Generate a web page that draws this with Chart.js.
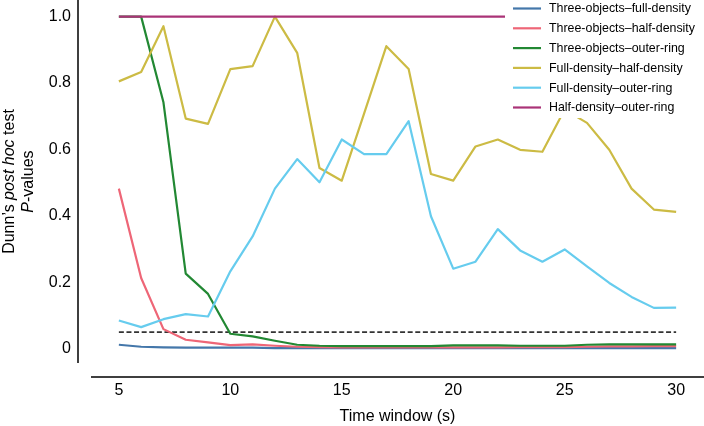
<!DOCTYPE html>
<html lang="en">
<head>
  <meta charset="UTF-8" />
  <title>Dunn's post hoc test P-values</title>
  <script src="https://cdn.jsdelivr.net/npm/chart.js"></script>
  <style>
    body {
      margin: 0;
      background: #fff;
    }
    canvas {
      display: block;
    }
  </style>
</head>
<body>
  <canvas id="pChart" width="704" height="426"></canvas>

  <script>
    // time windows (s)
    const timeWindow = [5, 6, 7, 8, 9, 10, 11, 12, 13, 14, 15, 16, 17, 18, 19, 20, 21, 22, 23, 24, 25, 26, 27, 28, 29, 30];

    const threeFull = [0.012, 0.006, 0.004, 0.003, 0.003, 0.003, 0.003, 0.002, 0.002, 0.002, 0.002, 0.002, 0.002,
                       0.002, 0.002, 0.002, 0.002, 0.002, 0.002, 0.002, 0.002, 0.002, 0.002, 0.002, 0.002, 0.002];
    const threeHalf = [0.482, 0.213, 0.059, 0.027, 0.019, 0.011, 0.013, 0.009, 0.006, 0.005, 0.004, 0.004, 0.004,
                       0.004, 0.004, 0.004, 0.004, 0.004, 0.005, 0.005, 0.005, 0.006, 0.007, 0.007, 0.008, 0.008];
    const threeOuter = [1.0, 1.0, 0.742, 0.226, 0.165, 0.045, 0.037, 0.024, 0.012, 0.009, 0.008, 0.008, 0.008,
                        0.008, 0.008, 0.010, 0.010, 0.010, 0.009, 0.009, 0.009, 0.012, 0.013, 0.013, 0.013, 0.013];
    const fullHalf = [0.805, 0.833, 0.971, 0.693, 0.677, 0.842, 0.851, 1.0, 0.891, 0.544, 0.506, 0.708, 0.911,
                      0.842, 0.526, 0.506, 0.609, 0.630, 0.599, 0.593, 0.720, 0.680, 0.599, 0.482, 0.419, 0.412];
    const fullOuter = [0.085, 0.065, 0.089, 0.104, 0.097, 0.233, 0.338, 0.482, 0.571, 0.501, 0.630, 0.586, 0.586,
                       0.685, 0.399, 0.241, 0.262, 0.360, 0.296, 0.262, 0.299, 0.248, 0.198, 0.156, 0.123, 0.124];
    const halfOuter = [1.0, 1.0, 1.0, 1.0, 1.0, 1.0, 1.0, 1.0, 1.0, 1.0, 1.0, 1.0, 1.0,
                       1.0, 1.0, 1.0, 1.0, 1.0, 1.0, 1.0, 1.0, 1.0, 1.0, 1.0, 1.0, 1.0];

    const seriesLabels = ['Three-objects\u2013full-density', 'Three-objects\u2013half-density', 'Three-objects\u2013outer-ring',
                          'Full-density\u2013half-density', 'Full-density\u2013outer-ring', 'Half-density\u2013outer-ring'];
    const seriesValues = [threeFull, threeHalf, threeOuter, fullHalf, fullOuter, halfOuter];
    const seriesColors = ['#4477AA', '#EE6677', '#228833', '#CCBB44', '#66CCEE', '#AA3377'];

    const threshold = 0.05;
    const xTicks = [5, 10, 15, 20, 25, 30];
    const yTicks = [0, 0.2, 0.4, 0.6, 0.8, 1.0];

    const FONT = "'Liberation Sans', Arial, sans-serif";

    const datasets = seriesValues.map((vals, i) => ({
      label: seriesLabels[i],
      data: vals.map((v, j) => ({ x: timeWindow[j], y: v })),
      borderColor: seriesColors[i],
      backgroundColor: seriesColors[i],
      borderWidth: 2.2,
      pointRadius: 0,
      tension: 0,
      borderJoinStyle: 'round',
      order: 10 - i
    }));

    // dashed significance line
    datasets.push({
      label: 'threshold',
      data: [{ x: timeWindow[0], y: threshold }, { x: timeWindow[timeWindow.length - 1], y: threshold }],
      borderColor: '#333',
      borderWidth: 1.6,
      borderDash: [5, 2.6],
      pointRadius: 0,
      order: 20
    });

    // offset spines like the despined original
    const spines = {
      id: 'spines',
      afterDraw(chart) {
        const { ctx, chartArea: a } = chart;
        ctx.save();
        ctx.strokeStyle = '#000';
        ctx.lineWidth = 1.5;
        ctx.beginPath();
        ctx.moveTo(a.left - 13, a.top);
        ctx.lineTo(a.left - 13, a.bottom);
        ctx.moveTo(a.left, a.bottom + 14);
        ctx.lineTo(a.right, a.bottom + 14);
        ctx.stroke();
        ctx.restore();
      }
    };

    // legend box with white background, top right inside plot
    const boxLegend = {
      id: 'boxLegend',
      afterDatasetsDraw(chart) {
        const { ctx } = chart;
        const x0 = 505, y0 = 0, w = 199, h = 118;
        ctx.save();
        ctx.fillStyle = '#fff';
        ctx.fillRect(x0, y0, w, h);
        ctx.font = `12.4px ${FONT}`;
        ctx.textBaseline = 'middle';
        ctx.fillStyle = '#000';
        chart.data.datasets.slice(0, seriesLabels.length).forEach((ds, i) => {
          const y = 8.5 + i * 19.8;
          ctx.strokeStyle = ds.borderColor;
          ctx.lineWidth = 2.2;
          ctx.beginPath();
          ctx.moveTo(513, y);
          ctx.lineTo(541, y);
          ctx.stroke();
          ctx.fillText(ds.label, 549, y + 0.5);
        });
        ctx.restore();
      }
    };

    // y title with italic parts
    const yTitle = {
      id: 'yTitle',
      afterDraw(chart) {
        const { ctx, chartArea: a } = chart;
        const lines = [
          { x: 10, parts: [['Dunn\u2019s ', false], ['post hoc', true], [' test', false]] },
          { x: 29, parts: [['P', true], ['-values', false]] }
        ];
        const cy = (a.top + a.bottom) / 2;
        ctx.save();
        ctx.fillStyle = '#000';
        ctx.textBaseline = 'middle';
        ctx.textAlign = 'left';
        lines.forEach(line => {
          const fonts = line.parts.map(p => `${p[1] ? 'italic ' : ''}16px ${FONT}`);
          let total = 0;
          const widths = line.parts.map((p, k) => { ctx.font = fonts[k]; const wd = ctx.measureText(p[0]).width; total += wd; return wd; });
          ctx.save();
          ctx.translate(line.x, cy);
          ctx.rotate(-Math.PI / 2);
          let px = -total / 2;
          line.parts.forEach((p, k) => {
            ctx.font = fonts[k];
            ctx.fillText(p[0], px, 0);
            px += widths[k];
          });
          ctx.restore();
        });
        ctx.restore();
      }
    };

    const chart = new Chart(document.getElementById('pChart'), {
      type: 'line',
      data: { datasets },
      plugins: [spines, boxLegend, yTitle],
      options: {
        responsive: false,
        animation: false,
        layout: { padding: 0 },
        plugins: {
          legend: { display: false },
          tooltip: { enabled: false }
        },
        scales: {
          x: {
            type: 'linear',
            min: 3.75,
            max: 31.25,
            grid: { display: false, drawTicks: false },
            border: { display: false },
            afterBuildTicks: s => { s.ticks = xTicks.map(v => ({ value: v })); },
            afterFit: s => {
              s.height = 63;
              s.paddingLeft = 0;
              s.paddingRight = 0;
            },
            ticks: {
              padding: 18,
              color: '#000',
              maxRotation: 0,
              font: { family: FONT, size: 16 }
            },
            title: {
              display: true,
              text: 'Time window (s)',
              color: '#000',
              padding: 0,
              font: { family: FONT, size: 16 }
            }
          },
          y: {
            min: -0.043,
            max: 1.05,
            grid: { display: false, drawTicks: false },
            border: { display: false },
            afterBuildTicks: s => { s.ticks = yTicks.map(v => ({ value: v })); },
            afterFit: s => {
              s.width = 91;
              s.paddingTop = 0;
              s.paddingBottom = 0;
            },
            ticks: {
              padding: 20,
              color: '#000',
              font: { family: FONT, size: 16 },
              callback: v => (v === 0 ? '0' : v.toFixed(1))
            }
          }
        }
      }
    });
  </script>
</body>
</html>
